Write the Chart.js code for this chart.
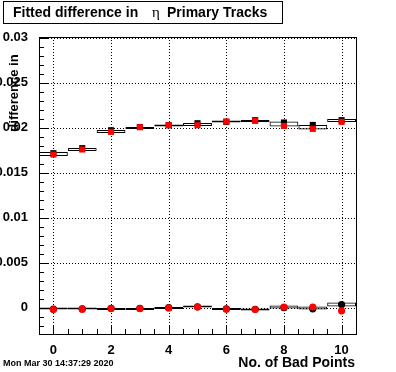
<!DOCTYPE html>
<html>
<head>
<meta charset="utf-8">
<script src="https://cdn.jsdelivr.net/npm/chart.js@4.4.0/dist/chart.umd.min.js"></script>
<style>
  html, body { margin: 0; padding: 0; background: #fff; }
  #wrap { width: 396px; height: 372px; }
</style>
</head>
<body>
<div id="wrap"><canvas id="chart" width="396" height="372"></canvas></div>
<script>
// x categories: number of bad points
const badPoints = [0, 1, 2, 3, 4, 5, 6, 7, 8, 9, 10];

// upper group (squares)
const upperBlack = [0.01719, 0.01775, 0.01974, 0.02010, 0.02030, 0.02052, 0.02067, 0.02086, 0.02060, 0.02033, 0.02086];
const upperRed   = [0.01704, 0.01760, 0.01956, 0.02008, 0.02030, 0.02030, 0.02071, 0.02078, 0.02022, 0.01989, 0.02067];
const upperBoxHi = [0.01732, 0.01777, 0.01977, 0.02010, 0.02038, 0.02054, 0.02082, 0.02088, 0.02071, 0.02032, 0.02099];
const upperBoxLo = [0.01688, 0.01743, 0.01943, 0.01988, 0.02016, 0.02021, 0.02060, 0.02066, 0.02016, 0.01982, 0.02066];

// lower group (circles)
const lowerBlack = [-0.00012, -0.00010, -0.00005, -0.00005, 0.00002, 0.00012, -0.00010, -0.00015, 0.00002, -0.00010, 0.00038];
const lowerRed   = [-0.00018, -0.00014, -0.00007, -0.00007, 0.00000, 0.00010, -0.00015, -0.00018, 0.00010, 0.00010, -0.00033];
const lowerBoxHi = [0.00004, 0.00004, -0.00001, -0.00001, 0.00010, 0.00027, -0.00001, -0.00007, 0.00027, 0.00016, 0.00060];
const lowerBoxLo = [-0.00018, -0.00018, -0.00023, -0.00023, -0.00012, 0.00004, -0.00023, -0.00029, -0.00007, -0.00018, 0.00016];

// axis ticks
const xTicks = [0, 2, 4, 6, 8, 10];
const xTickLabels = ['0', '2', '4', '6', '8', '10'];
const yTicks = [0, 0.005, 0.01, 0.015, 0.02, 0.025, 0.03];
const yTickLabels = ['0', '0.005', '0.01', '0.015', '0.02', '0.025', '0.03'];

const titleText = 'Fitted difference in';
const titleGreek = '\u03b7';
const titleRest = 'Primary Tracks';
const xTitle = 'No. of Bad Points';
const yTitle = 'difference in';
const stamp = 'Mon Mar 30 14:37:29 2020';

const pts = arr => badPoints.map((x, i) => ({ x: x, y: arr[i] }));
const boxes = (lo, hi) => badPoints.map((x, i) => ({ x: x, y: [lo[i], hi[i]] }));

const boxStyle = {
    type: 'bar',
    backgroundColor: 'rgba(0,0,0,0)',
    borderColor: '#000',
    borderWidth: 1,
    borderSkipped: false,
    barPercentage: 1,
    categoryPercentage: 1,
    grouped: false,
    inflateAmount: 0,
    order: 3
};

// ROOT-like frame, grid, ticks and texts
const rootStyle = {
    id: 'rootStyle',
    beforeDatasetsDraw(chart) {
        const { ctx, chartArea: a, scales: { x, y } } = chart;
        ctx.save();
        ctx.strokeStyle = '#000';
        ctx.lineWidth = 1;
        ctx.setLineDash([1, 2]);
        ctx.beginPath();
        xTicks.forEach(v => {
            const px = Math.round(x.getPixelForValue(v)) + 0.5;
            ctx.moveTo(px, a.top); ctx.lineTo(px, a.bottom);
        });
        yTicks.forEach(v => {
            const py = Math.round(y.getPixelForValue(v)) + 0.5;
            ctx.moveTo(a.left, py); ctx.lineTo(a.right, py);
        });
        ctx.stroke();
        ctx.restore();
    },
    afterDraw(chart) {
        const { ctx, chartArea: a, scales: { x, y } } = chart;
        ctx.save();
        ctx.strokeStyle = '#000';
        ctx.lineWidth = 1;

        // frame
        ctx.strokeRect(Math.round(a.left) + 0.5, Math.round(a.top) + 0.5,
            Math.round(a.right - a.left), Math.round(a.bottom - a.top));

        // tick marks
        ctx.beginPath();
        for (let k = -2; k <= 30; k++) {
            const py = Math.round(y.getPixelForValue(k / 1000)) + 0.5;
            const len = k % 5 === 0 ? 9 : 5;
            ctx.moveTo(a.left, py); ctx.lineTo(a.left + len, py);
        }
        for (let k = 0; k <= 20; k++) {
            const px = Math.round(x.getPixelForValue(k / 2)) + 0.5;
            const len = k % 4 === 0 ? 9 : 5;
            ctx.moveTo(px, a.bottom); ctx.lineTo(px, a.bottom - len);
        }
        ctx.stroke();

        // title box
        ctx.fillStyle = '#fff';
        ctx.fillRect(3, 1, 279, 22);
        ctx.strokeRect(3.5, 1.5, 279, 22);
        ctx.fillStyle = '#000';
        ctx.textBaseline = 'alphabetic';
        ctx.textAlign = 'left';
        ctx.font = 'bold 14px "Liberation Sans", Arial, sans-serif';
        ctx.fillText(titleText, 13, 17);
        ctx.font = '15px "Liberation Serif", "DejaVu Serif", serif';
        ctx.fillText(titleGreek, 152, 17);
        ctx.font = 'bold 14px "Liberation Sans", Arial, sans-serif';
        ctx.fillText(titleRest, 167, 17);

        // x title
        ctx.textAlign = 'right';
        ctx.textBaseline = 'middle';
        ctx.fillText(xTitle, 355, 363);

        // y title
        ctx.save();
        ctx.translate(14, 93);
        ctx.rotate(-Math.PI / 2);
        ctx.textAlign = 'center';
        ctx.font = 'bold 13px "Liberation Sans", Arial, sans-serif';
        ctx.fillText(yTitle, 0, 0);
        ctx.restore();

        // date stamp
        ctx.textAlign = 'left';
        ctx.font = 'bold 9px "Liberation Sans", Arial, sans-serif';
        ctx.fillText(stamp, 3, 364);
        ctx.restore();
    }
};

const ctx = document.getElementById('chart');
new Chart(ctx, {
    type: 'scatter',
    data: {
        datasets: [
            { label: 'upper red', data: pts(upperRed), pointStyle: 'rect', pointRadius: 4.3, backgroundColor: '#ff0000', borderWidth: 0, order: 1 },
            { label: 'lower red', data: pts(lowerRed), pointStyle: 'circle', pointRadius: 3.6, backgroundColor: '#ff0000', borderWidth: 0, order: 1 },
            { label: 'upper black', data: pts(upperBlack), pointStyle: 'rect', pointRadius: 4.3, backgroundColor: '#000', borderWidth: 0, order: 2 },
            { label: 'lower black', data: pts(lowerBlack), pointStyle: 'circle', pointRadius: 3.6, backgroundColor: '#000', borderWidth: 0, order: 2 },
            Object.assign({ label: 'upper box', data: boxes(upperBoxLo, upperBoxHi) }, boxStyle),
            Object.assign({ label: 'lower box', data: boxes(lowerBoxLo, lowerBoxHi) }, boxStyle)
        ]
    },
    options: {
        responsive: false,
        animation: false,
        devicePixelRatio: 1,
        layout: { padding: { top: 37, right: 40, left: 0, bottom: 0 } },
        plugins: {
            legend: { display: false },
            tooltip: { enabled: false }
        },
        scales: {
            x: {
                type: 'linear',
                min: -0.5,
                max: 10.5,
                offset: false,
                grid: { display: false },
                border: { display: false },
                afterFit: function(scale) { scale.height = 38; },
                afterBuildTicks: function(scale) {
                    scale.ticks = xTicks.map(v => ({ value: v }));
                },
                ticks: {
                    autoSkip: false,
                    maxRotation: 0,
                    padding: 1,
                    color: '#000',
                    font: { family: '"Liberation Sans", Arial, sans-serif', size: 13, weight: 'bold' },
                    callback: function(value, index) { return xTickLabels[index]; }
                }
            },
            y: {
                type: 'linear',
                min: -0.0029,
                max: 0.0301,
                grid: { display: false },
                border: { display: false },
                afterFit: function(scale) { scale.width = 39; },
                afterBuildTicks: function(scale) {
                    scale.ticks = yTicks.map(v => ({ value: v }));
                },
                ticks: {
                    autoSkip: false,
                    padding: 3,
                    color: '#000',
                    font: { family: '"Liberation Sans", Arial, sans-serif', size: 13, weight: 'bold' },
                    callback: function(value, index) { return yTickLabels[index]; }
                }
            }
        }
    },
    plugins: [rootStyle]
});
</script>
</body>
</html>
